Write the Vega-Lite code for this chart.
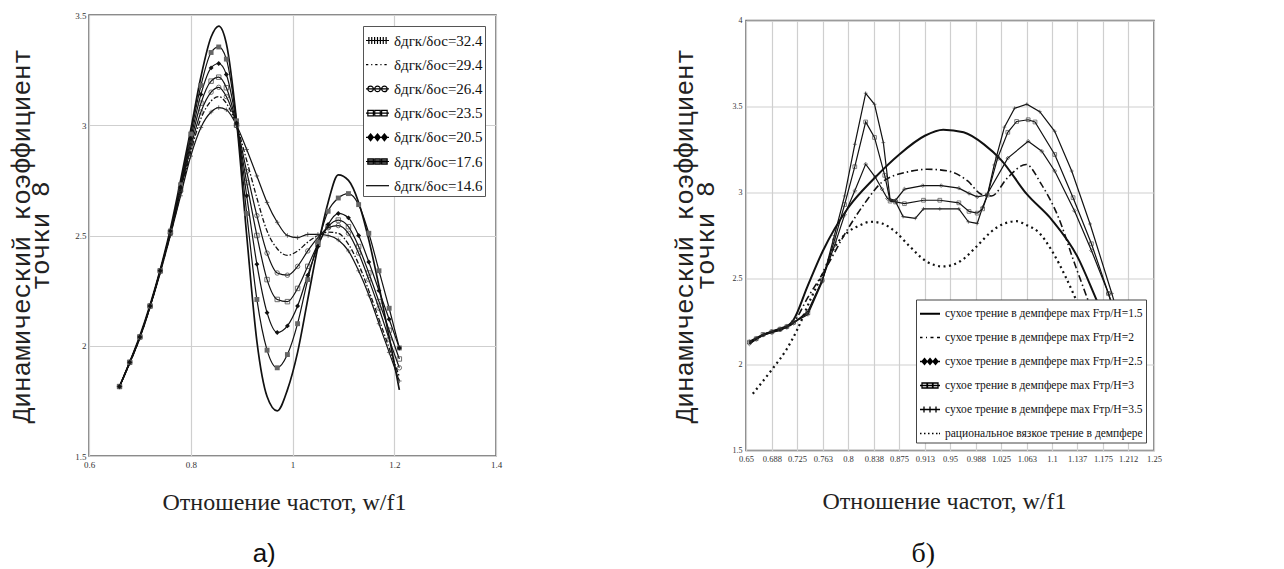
{
"$schema": "https://vega.github.io/schema/vega-lite/v6.json",
"background": "white",
"padding": {"left": 8, "top": 10, "right": 5, "bottom": 2},
"bounds": "flush",
"center": true,
"spacing": 250,
"config": {
 "view": {"stroke": "#666", "strokeWidth": 1.5},
 "axis": {"grid": true, "gridColor": "#cfcfcf", "gridWidth": 1.2, "domain": false, "ticks": false, "labelFont": "Liberation Serif", "labelColor": "#333", "labelFlush": false, "labelOverlap": false, "titleFontWeight": "normal", "titleColor": "#222"},
 "axisX": {"titleFont": "Liberation Serif", "titleFontSize": 24, "labelPadding": 4},
 "axisY": {"titleFont": "Liberation Mono", "titleFontSize": 26, "labelPadding": 3},
 "title": {"fontWeight": "normal", "color": "#111"}
},
"datasets": {
"a": [
{"s":"14.6","x":0.66,"y":1.815},{"s":"14.6","x":0.68,"y":1.925},{"s":"14.6","x":0.70,"y":2.045},{"s":"14.6","x":0.72,"y":2.185},{"s":"14.6","x":0.74,"y":2.345},{"s":"14.6","x":0.76,"y":2.53},{"s":"14.6","x":0.78,"y":2.75},{"s":"14.6","x":0.80,"y":2.98},{"s":"14.6","x":0.82,"y":3.22},{"s":"14.6","x":0.84,"y":3.40},{"s":"14.6","x":0.855,"y":3.45},{"s":"14.6","x":0.87,"y":3.37},{"s":"14.6","x":0.89,"y":3.02},{"s":"14.6","x":0.91,"y":2.50},{"s":"14.6","x":0.93,"y":2.02},{"s":"14.6","x":0.95,"y":1.77},{"s":"14.6","x":0.97,"y":1.705},{"s":"14.6","x":0.99,"y":1.80},{"s":"14.6","x":1.01,"y":1.97},{"s":"14.6","x":1.03,"y":2.21},{"s":"14.6","x":1.05,"y":2.45},{"s":"14.6","x":1.07,"y":2.65},{"s":"14.6","x":1.09,"y":2.775},{"s":"14.6","x":1.11,"y":2.75},{"s":"14.6","x":1.13,"y":2.65},{"s":"14.6","x":1.15,"y":2.48},{"s":"14.6","x":1.17,"y":2.27},{"s":"14.6","x":1.19,"y":2.04},{"s":"14.6","x":1.21,"y":1.80},
{"s":"17.6","x":0.66,"y":1.815},{"s":"17.6","x":0.68,"y":1.925},{"s":"17.6","x":0.70,"y":2.04},{"s":"17.6","x":0.72,"y":2.18},{"s":"17.6","x":0.74,"y":2.34},{"s":"17.6","x":0.76,"y":2.52},{"s":"17.6","x":0.78,"y":2.73},{"s":"17.6","x":0.80,"y":2.96},{"s":"17.6","x":0.82,"y":3.18},{"s":"17.6","x":0.84,"y":3.33},{"s":"17.6","x":0.855,"y":3.355},{"s":"17.6","x":0.87,"y":3.30},{"s":"17.6","x":0.89,"y":3.02},{"s":"17.6","x":0.91,"y":2.60},{"s":"17.6","x":0.93,"y":2.21},{"s":"17.6","x":0.95,"y":1.98},{"s":"17.6","x":0.97,"y":1.90},{"s":"17.6","x":0.99,"y":1.96},{"s":"17.6","x":1.01,"y":2.10},{"s":"17.6","x":1.03,"y":2.30},{"s":"17.6","x":1.05,"y":2.47},{"s":"17.6","x":1.07,"y":2.61},{"s":"17.6","x":1.09,"y":2.67},{"s":"17.6","x":1.11,"y":2.69},{"s":"17.6","x":1.13,"y":2.64},{"s":"17.6","x":1.15,"y":2.51},{"s":"17.6","x":1.17,"y":2.34},{"s":"17.6","x":1.19,"y":2.17},{"s":"17.6","x":1.21,"y":1.99},
{"s":"20.5","x":0.66,"y":1.815},{"s":"20.5","x":0.68,"y":1.925},{"s":"20.5","x":0.70,"y":2.04},{"s":"20.5","x":0.72,"y":2.18},{"s":"20.5","x":0.74,"y":2.34},{"s":"20.5","x":0.76,"y":2.52},{"s":"20.5","x":0.78,"y":2.72},{"s":"20.5","x":0.80,"y":2.94},{"s":"20.5","x":0.82,"y":3.14},{"s":"20.5","x":0.84,"y":3.26},{"s":"20.5","x":0.855,"y":3.28},{"s":"20.5","x":0.87,"y":3.23},{"s":"20.5","x":0.89,"y":3.01},{"s":"20.5","x":0.91,"y":2.68},{"s":"20.5","x":0.93,"y":2.37},{"s":"20.5","x":0.95,"y":2.15},{"s":"20.5","x":0.97,"y":2.06},{"s":"20.5","x":0.99,"y":2.09},{"s":"20.5","x":1.01,"y":2.18},{"s":"20.5","x":1.03,"y":2.32},{"s":"20.5","x":1.05,"y":2.45},{"s":"20.5","x":1.07,"y":2.55},{"s":"20.5","x":1.09,"y":2.60},{"s":"20.5","x":1.11,"y":2.58},{"s":"20.5","x":1.13,"y":2.50},{"s":"20.5","x":1.15,"y":2.38},{"s":"20.5","x":1.17,"y":2.25},{"s":"20.5","x":1.19,"y":2.12},{"s":"20.5","x":1.21,"y":1.99},
{"s":"23.5","x":0.66,"y":1.815},{"s":"23.5","x":0.68,"y":1.925},{"s":"23.5","x":0.70,"y":2.04},{"s":"23.5","x":0.72,"y":2.18},{"s":"23.5","x":0.74,"y":2.34},{"s":"23.5","x":0.76,"y":2.515},{"s":"23.5","x":0.78,"y":2.71},{"s":"23.5","x":0.80,"y":2.92},{"s":"23.5","x":0.82,"y":3.10},{"s":"23.5","x":0.84,"y":3.20},{"s":"23.5","x":0.855,"y":3.218},{"s":"23.5","x":0.87,"y":3.17},{"s":"23.5","x":0.89,"y":3.00},{"s":"23.5","x":0.91,"y":2.74},{"s":"23.5","x":0.93,"y":2.50},{"s":"23.5","x":0.95,"y":2.30},{"s":"23.5","x":0.97,"y":2.21},{"s":"23.5","x":0.99,"y":2.20},{"s":"23.5","x":1.01,"y":2.26},{"s":"23.5","x":1.03,"y":2.36},{"s":"23.5","x":1.05,"y":2.46},{"s":"23.5","x":1.07,"y":2.54},{"s":"23.5","x":1.09,"y":2.57},{"s":"23.5","x":1.11,"y":2.54},{"s":"23.5","x":1.13,"y":2.45},{"s":"23.5","x":1.15,"y":2.33},{"s":"23.5","x":1.17,"y":2.20},{"s":"23.5","x":1.19,"y":2.07},{"s":"23.5","x":1.21,"y":1.94},
{"s":"26.4","x":0.66,"y":1.815},{"s":"26.4","x":0.68,"y":1.925},{"s":"26.4","x":0.70,"y":2.04},{"s":"26.4","x":0.72,"y":2.18},{"s":"26.4","x":0.74,"y":2.34},{"s":"26.4","x":0.76,"y":2.51},{"s":"26.4","x":0.78,"y":2.70},{"s":"26.4","x":0.80,"y":2.90},{"s":"26.4","x":0.82,"y":3.06},{"s":"26.4","x":0.84,"y":3.15},{"s":"26.4","x":0.855,"y":3.172},{"s":"26.4","x":0.87,"y":3.13},{"s":"26.4","x":0.89,"y":3.00},{"s":"26.4","x":0.91,"y":2.79},{"s":"26.4","x":0.93,"y":2.59},{"s":"26.4","x":0.95,"y":2.42},{"s":"26.4","x":0.97,"y":2.33},{"s":"26.4","x":0.99,"y":2.32},{"s":"26.4","x":1.01,"y":2.36},{"s":"26.4","x":1.03,"y":2.43},{"s":"26.4","x":1.05,"y":2.49},{"s":"26.4","x":1.07,"y":2.535},{"s":"26.4","x":1.09,"y":2.545},{"s":"26.4","x":1.11,"y":2.51},{"s":"26.4","x":1.13,"y":2.42},{"s":"26.4","x":1.15,"y":2.30},{"s":"26.4","x":1.17,"y":2.17},{"s":"26.4","x":1.19,"y":2.03},{"s":"26.4","x":1.21,"y":1.90},
{"s":"29.4","x":0.66,"y":1.815},{"s":"29.4","x":0.68,"y":1.92},{"s":"29.4","x":0.70,"y":2.035},{"s":"29.4","x":0.72,"y":2.175},{"s":"29.4","x":0.74,"y":2.335},{"s":"29.4","x":0.76,"y":2.505},{"s":"29.4","x":0.78,"y":2.69},{"s":"29.4","x":0.80,"y":2.88},{"s":"29.4","x":0.82,"y":3.03},{"s":"29.4","x":0.84,"y":3.11},{"s":"29.4","x":0.855,"y":3.13},{"s":"29.4","x":0.87,"y":3.10},{"s":"29.4","x":0.89,"y":3.00},{"s":"29.4","x":0.91,"y":2.84},{"s":"29.4","x":0.93,"y":2.67},{"s":"29.4","x":0.95,"y":2.52},{"s":"29.4","x":0.97,"y":2.44},{"s":"29.4","x":0.99,"y":2.41},{"s":"29.4","x":1.01,"y":2.43},{"s":"29.4","x":1.03,"y":2.47},{"s":"29.4","x":1.05,"y":2.50},{"s":"29.4","x":1.07,"y":2.515},{"s":"29.4","x":1.09,"y":2.51},{"s":"29.4","x":1.11,"y":2.46},{"s":"29.4","x":1.13,"y":2.37},{"s":"29.4","x":1.15,"y":2.25},{"s":"29.4","x":1.17,"y":2.12},{"s":"29.4","x":1.19,"y":1.99},{"s":"29.4","x":1.21,"y":1.86},
{"s":"32.4","x":0.66,"y":1.815},{"s":"32.4","x":0.68,"y":1.92},{"s":"32.4","x":0.70,"y":2.035},{"s":"32.4","x":0.72,"y":2.175},{"s":"32.4","x":0.74,"y":2.33},{"s":"32.4","x":0.76,"y":2.50},{"s":"32.4","x":0.78,"y":2.68},{"s":"32.4","x":0.80,"y":2.86},{"s":"32.4","x":0.82,"y":2.99},{"s":"32.4","x":0.84,"y":3.06},{"s":"32.4","x":0.855,"y":3.08},{"s":"32.4","x":0.87,"y":3.07},{"s":"32.4","x":0.89,"y":3.00},{"s":"32.4","x":0.91,"y":2.89},{"s":"32.4","x":0.93,"y":2.77},{"s":"32.4","x":0.95,"y":2.65},{"s":"32.4","x":0.97,"y":2.56},{"s":"32.4","x":0.99,"y":2.50},{"s":"32.4","x":1.01,"y":2.49},{"s":"32.4","x":1.03,"y":2.505},{"s":"32.4","x":1.05,"y":2.505},{"s":"32.4","x":1.07,"y":2.50},{"s":"32.4","x":1.09,"y":2.48},{"s":"32.4","x":1.11,"y":2.43},{"s":"32.4","x":1.13,"y":2.34},{"s":"32.4","x":1.15,"y":2.23},{"s":"32.4","x":1.17,"y":2.10},{"s":"32.4","x":1.19,"y":1.97},{"s":"32.4","x":1.21,"y":1.84}
],
"b": [
{"s":"1.5","x":0.655,"y":2.12},{"s":"1.5","x":0.665,"y":2.15},{"s":"1.5","x":0.675,"y":2.17},{"s":"1.5","x":0.688,"y":2.19},{"s":"1.5","x":0.7,"y":2.205},{"s":"1.5","x":0.71,"y":2.22},{"s":"1.5","x":0.72,"y":2.26},{"s":"1.5","x":0.74,"y":2.45},{"s":"1.5","x":0.763,"y":2.66},{"s":"1.5","x":0.8,"y":2.91},{"s":"1.5","x":0.838,"y":3.08},{"s":"1.5","x":0.875,"y":3.22},{"s":"1.5","x":0.913,"y":3.33},{"s":"1.5","x":0.94,"y":3.365},{"s":"1.5","x":0.97,"y":3.35},{"s":"1.5","x":1.0,"y":3.28},{"s":"1.5","x":1.025,"y":3.19},{"s":"1.5","x":1.063,"y":2.99},{"s":"1.5","x":1.1,"y":2.84},{"s":"1.5","x":1.137,"y":2.63},{"s":"1.5","x":1.165,"y":2.38},{"s":"1.5","x":1.19,"y":2.15},{"s":"1.5","x":1.21,"y":1.95},
{"s":"2","x":0.655,"y":2.13},{"s":"2","x":0.665,"y":2.15},{"s":"2","x":0.675,"y":2.17},{"s":"2","x":0.688,"y":2.19},{"s":"2","x":0.7,"y":2.2},{"s":"2","x":0.71,"y":2.215},{"s":"2","x":0.72,"y":2.245},{"s":"2","x":0.741,"y":2.39},{"s":"2","x":0.763,"y":2.53},{"s":"2","x":0.8,"y":2.79},{"s":"2","x":0.825,"y":2.94},{"s":"2","x":0.85,"y":3.06},{"s":"2","x":0.888,"y":3.12},{"s":"2","x":0.917,"y":3.135},{"s":"2","x":0.947,"y":3.125},{"s":"2","x":0.976,"y":3.067},{"s":"2","x":0.996,"y":2.99},{"s":"2","x":1.011,"y":2.98},{"s":"2","x":1.035,"y":3.087},{"s":"2","x":1.062,"y":3.163},{"s":"2","x":1.084,"y":3.05},{"s":"2","x":1.109,"y":2.86},{"s":"2","x":1.133,"y":2.59},{"s":"2","x":1.16,"y":2.3},{"s":"2","x":1.19,"y":2.0},
{"s":"2.5","x":0.655,"y":2.12},{"s":"2.5","x":0.665,"y":2.145},{"s":"2.5","x":0.675,"y":2.17},{"s":"2.5","x":0.688,"y":2.185},{"s":"2.5","x":0.7,"y":2.2},{"s":"2.5","x":0.71,"y":2.215},{"s":"2.5","x":0.72,"y":2.24},{"s":"2.5","x":0.741,"y":2.31},{"s":"2.5","x":0.762,"y":2.49},{"s":"2.5","x":0.78,"y":2.69},{"s":"2.5","x":0.795,"y":2.87},{"s":"2.5","x":0.81,"y":3.01},{"s":"2.5","x":0.826,"y":3.165},{"s":"2.5","x":0.84,"y":3.09},{"s":"2.5","x":0.85,"y":3.02},{"s":"2.5","x":0.858,"y":2.965},{"s":"2.5","x":0.87,"y":2.955},{"s":"2.5","x":0.883,"y":3.02},{"s":"2.5","x":0.91,"y":3.04},{"s":"2.5","x":0.937,"y":3.04},{"s":"2.5","x":0.963,"y":3.025},{"s":"2.5","x":0.978,"y":2.995},{"s":"2.5","x":0.99,"y":2.975},{"s":"2.5","x":1.004,"y":2.985},{"s":"2.5","x":1.035,"y":3.2},{"s":"2.5","x":1.065,"y":3.298},{"s":"2.5","x":1.085,"y":3.24},{"s":"2.5","x":1.104,"y":3.125},{"s":"2.5","x":1.133,"y":2.894},{"s":"2.5","x":1.158,"y":2.663},{"s":"2.5","x":1.183,"y":2.413},{"s":"2.5","x":1.205,"y":2.15},
{"s":"3","x":0.655,"y":2.13},{"s":"3","x":0.665,"y":2.15},{"s":"3","x":0.675,"y":2.175},{"s":"3","x":0.688,"y":2.19},{"s":"3","x":0.7,"y":2.205},{"s":"3","x":0.71,"y":2.22},{"s":"3","x":0.72,"y":2.245},{"s":"3","x":0.741,"y":2.3},{"s":"3","x":0.762,"y":2.49},{"s":"3","x":0.78,"y":2.72},{"s":"3","x":0.795,"y":2.93},{"s":"3","x":0.81,"y":3.15},{"s":"3","x":0.826,"y":3.41},{"s":"3","x":0.839,"y":3.32},{"s":"3","x":0.854,"y":3.1},{"s":"3","x":0.862,"y":2.95},{"s":"3","x":0.87,"y":2.945},{"s":"3","x":0.883,"y":2.935},{"s":"3","x":0.911,"y":2.955},{"s":"3","x":0.935,"y":2.955},{"s":"3","x":0.963,"y":2.94},{"s":"3","x":0.978,"y":2.89},{"s":"3","x":0.99,"y":2.88},{"s":"3","x":0.998,"y":2.905},{"s":"3","x":1.005,"y":2.985},{"s":"3","x":1.02,"y":3.2},{"s":"3","x":1.035,"y":3.35},{"s":"3","x":1.048,"y":3.413},{"s":"3","x":1.065,"y":3.423},{"s":"3","x":1.075,"y":3.41},{"s":"3","x":1.104,"y":3.221},{"s":"3","x":1.131,"y":2.97},{"s":"3","x":1.158,"y":2.702},{"s":"3","x":1.183,"y":2.413},{"s":"3","x":1.205,"y":2.12},
{"s":"3.5","x":0.655,"y":2.135},{"s":"3.5","x":0.665,"y":2.155},{"s":"3.5","x":0.675,"y":2.175},{"s":"3.5","x":0.688,"y":2.195},{"s":"3.5","x":0.7,"y":2.21},{"s":"3.5","x":0.71,"y":2.225},{"s":"3.5","x":0.72,"y":2.245},{"s":"3.5","x":0.741,"y":2.29},{"s":"3.5","x":0.762,"y":2.48},{"s":"3.5","x":0.78,"y":2.75},{"s":"3.5","x":0.795,"y":2.98},{"s":"3.5","x":0.81,"y":3.28},{"s":"3.5","x":0.826,"y":3.577},{"s":"3.5","x":0.839,"y":3.513},{"s":"3.5","x":0.852,"y":3.29},{"s":"3.5","x":0.862,"y":2.956},{"s":"3.5","x":0.87,"y":2.946},{"s":"3.5","x":0.881,"y":2.86},{"s":"3.5","x":0.899,"y":2.85},{"s":"3.5","x":0.911,"y":2.905},{"s":"3.5","x":0.935,"y":2.905},{"s":"3.5","x":0.963,"y":2.905},{"s":"3.5","x":0.977,"y":2.83},{"s":"3.5","x":0.99,"y":2.82},{"s":"3.5","x":0.998,"y":2.915},{"s":"3.5","x":1.005,"y":2.985},{"s":"3.5","x":1.015,"y":3.16},{"s":"3.5","x":1.03,"y":3.38},{"s":"3.5","x":1.045,"y":3.49},{"s":"3.5","x":1.063,"y":3.513},{"s":"3.5","x":1.082,"y":3.47},{"s":"3.5","x":1.104,"y":3.356},{"s":"3.5","x":1.129,"y":3.125},{"s":"3.5","x":1.156,"y":2.817},{"s":"3.5","x":1.188,"y":2.413},{"s":"3.5","x":1.21,"y":2.1},
{"s":"v","x":0.66,"y":1.83},{"s":"v","x":0.688,"y":1.97},{"s":"v","x":0.71,"y":2.09},{"s":"v","x":0.725,"y":2.2},{"s":"v","x":0.745,"y":2.38},{"s":"v","x":0.763,"y":2.53},{"s":"v","x":0.78,"y":2.68},{"s":"v","x":0.8,"y":2.77},{"s":"v","x":0.818,"y":2.81},{"s":"v","x":0.833,"y":2.83},{"s":"v","x":0.85,"y":2.82},{"s":"v","x":0.87,"y":2.77},{"s":"v","x":0.89,"y":2.69},{"s":"v","x":0.915,"y":2.6},{"s":"v","x":0.94,"y":2.57},{"s":"v","x":0.965,"y":2.6},{"s":"v","x":0.99,"y":2.69},{"s":"v","x":1.01,"y":2.77},{"s":"v","x":1.03,"y":2.82},{"s":"v","x":1.048,"y":2.833},{"s":"v","x":1.063,"y":2.81},{"s":"v","x":1.08,"y":2.77},{"s":"v","x":1.1,"y":2.66},{"s":"v","x":1.12,"y":2.51},{"s":"v","x":1.135,"y":2.38},{"s":"v","x":1.155,"y":2.2},{"s":"v","x":1.17,"y":2.09},{"s":"v","x":1.192,"y":1.97},{"s":"v","x":1.22,"y":1.83}
]
},
"hconcat": [
{
 "width": 407, "height": 441,
 "title": {"text": "а)", "orient": "bottom", "font": "Liberation Sans", "fontSize": 26, "offset": 27, "dx": 9, "anchor": "middle", "frame": "bounds"},
 "data": {"name": "a"},
 "encoding": {
  "x": {"field": "x", "type": "quantitative", "scale": {"domain": [0.6, 1.4], "nice": false, "zero": false}, "axis": {"values": [0.6, 0.8, 1, 1.2, 1.4], "format": "~g", "labelFontSize": 9, "title": "Отношение частот, w/f1", "titlePadding": 21, "titleX": 195}},
  "y": {"field": "y", "type": "quantitative", "scale": {"domain": [1.5, 3.5], "nice": false, "zero": false}, "axis": {"values": [1.5, 2, 2.5, 3, 3.5], "format": "~g", "labelFontSize": 9, "title": ["Динамический коэффициент", "точки 8"], "titleLineHeight": 19, "titlePadding": 21}}
 },
 "layer": [
  {"transform": [{"filter": {"field": "s", "oneOf": ["32.4","26.4","23.5","20.5","17.6"]}}],
   "mark": {"type": "line", "interpolate": "monotone", "color": "#111", "strokeWidth": 1.2},
   "encoding": {"detail": {"field": "s", "type": "nominal"}}},
  {"transform": [{"filter": {"field": "s", "equal": "14.6"}}],
   "mark": {"type": "line", "interpolate": "monotone", "color": "#111", "strokeWidth": 1.7},
   "encoding": {}},
  {"transform": [{"filter": {"field": "s", "equal": "29.4"}}],
   "mark": {"type": "line", "interpolate": "monotone", "color": "#111", "strokeWidth": 1.3, "strokeDash": [5, 2, 1.5, 2]},
   "encoding": {}},
  {"transform": [{"filter": {"field": "s", "oneOf": ["32.4","26.4","23.5"]}}],
   "mark": {"type": "point", "filled": false, "color": "#333", "strokeWidth": 1, "size": 20},
   "encoding": {"shape": {"field": "s", "type": "nominal", "scale": {"domain": ["32.4","26.4","23.5"], "range": ["M-1,0H1M0,-1V1", "circle", "square"]}, "legend": null}}},
  {"transform": [{"filter": {"field": "s", "oneOf": ["20.5","17.6"]}}],
   "mark": {"type": "point", "filled": true, "size": 24, "opacity": 1},
   "encoding": {
    "shape": {"field": "s", "type": "nominal", "scale": {"domain": ["20.5","17.6"], "range": ["diamond", "square"]}, "legend": null},
    "color": {"field": "s", "type": "nominal", "scale": {"domain": ["20.5","17.6"], "range": ["#111", "#666"]}, "legend": null}
   }},
  {"mark": {"type": "point", "filled": false, "opacity": 0, "color": "black"},
   "encoding": {"shape": {"field": "s", "type": "nominal",
     "scale": {"domain": ["32.4","29.4","26.4","23.5","20.5","17.6","14.6"],
      "range": [
       "M-1,0H1M-0.75,-0.3V0.3M-0.5,-0.3V0.3M-0.25,-0.3V0.3M0,-0.3V0.3M0.25,-0.3V0.3M0.5,-0.3V0.3M0.75,-0.3V0.3",
       "M-1,0H-0.8M-0.55,0H-0.45M-0.2,0H0M0.25,0H0.35M0.6,0H0.8",
       "M-1,0H1M-0.84,0A0.24,0.24 0 1,0 -0.36,0A0.24,0.24 0 1,0 -0.84,0M-0.24,0A0.24,0.24 0 1,0 0.24,0A0.24,0.24 0 1,0 -0.24,0M0.36,0A0.24,0.24 0 1,0 0.84,0A0.24,0.24 0 1,0 0.36,0",
       "M-1,0H1M-0.84,-0.24H-0.36V0.24H-0.84ZM-0.24,-0.24H0.24V0.24H-0.24ZM0.36,-0.24H0.84V0.24H0.36Z",
       "M-1,0H1M-0.6,-0.3L-0.36,0L-0.6,0.3L-0.84,0ZM-0.6,-0.15L-0.48,0L-0.6,0.15L-0.72,0ZM-0.6,-0.3V0.3M0,-0.3L0.24,0L0,0.3L-0.24,0ZM0,-0.15L0.12,0L0,0.15L-0.12,0ZM0,-0.3V0.3M0.6,-0.3L0.84,0L0.6,0.3L0.36,0ZM0.6,-0.15L0.72,0L0.6,0.15L0.48,0ZM0.6,-0.3V0.3",
       "M-1,0H1M-0.84,-0.24H-0.36V0.24H-0.84ZM-0.84,-0.12H-0.36M-0.84,0.12H-0.36M-0.24,-0.24H0.24V0.24H-0.24ZM-0.24,-0.12H0.24M-0.24,0.12H0.24M0.36,-0.24H0.84V0.24H0.36ZM0.36,-0.12H0.84M0.36,0.12H0.84",
       "M-1,0H1"]},
     "legend": {"title": null, "orient": "none", "legendX": 274, "legendY": 11, "symbolSize": 529, "symbolStrokeWidth": 1.2, "symbolStrokeColor": "black", "symbolFillColor": "transparent", "symbolOpacity": 1, "labelFont": "Liberation Serif", "labelFontSize": 15, "labelColor": "#111", "labelOffset": 4, "labelLimit": 300, "labelExpr": "'δдгк/δос=' + datum.label", "rowPadding": 3.2, "padding": 2, "strokeColor": "#555", "fillColor": "white",
      "encode": {"symbols": {"update": {"opacity": {"value": 1}}}}}
   }}}
 ],
 "resolve": {"scale": {"shape": "independent", "color": "independent"}}
},
{
 "width": 408, "height": 430,
 "title": {"text": "б)", "orient": "bottom", "font": "Liberation Serif", "fontSize": 28, "offset": 27, "dx": 7, "anchor": "middle", "frame": "bounds"},
 "data": {"name": "b"},
 "encoding": {
  "x": {"field": "x", "type": "quantitative", "scale": {"domain": [0.65, 1.25], "nice": false, "zero": false}, "axis": {"values": [0.65, 0.688, 0.725, 0.763, 0.8, 0.838, 0.875, 0.913, 0.95, 0.988, 1.025, 1.063, 1.1, 1.137, 1.175, 1.212, 1.25], "format": ".4~g", "labelFontSize": 8.5, "title": "Отношение частот, w/f1", "titlePadding": 26, "titleX": 198}},
  "y": {"field": "y", "type": "quantitative", "scale": {"domain": [1.5, 4], "nice": false, "zero": false}, "axis": {"values": [1.5, 2, 2.5, 3, 3.5, 4], "format": "~g", "labelFontSize": 8, "labelPadding": 4, "title": ["Динамический коэффициент", "точки 8"], "titleLineHeight": 21, "titlePadding": 14}}
 },
 "layer": [
  {"transform": [{"filter": {"field": "s", "oneOf": ["2.5","3","3.5"]}}],
   "mark": {"type": "line", "interpolate": "linear", "color": "#111", "strokeWidth": 1.2},
   "encoding": {"detail": {"field": "s", "type": "nominal"}}},
  {"transform": [{"filter": {"field": "s", "equal": "1.5"}}],
   "mark": {"type": "line", "interpolate": "monotone", "color": "#111", "strokeWidth": 2},
   "encoding": {}},
  {"transform": [{"filter": {"field": "s", "equal": "2"}}],
   "mark": {"type": "line", "interpolate": "monotone", "color": "#111", "strokeWidth": 1.6, "strokeDash": [7, 3, 1.5, 3]},
   "encoding": {}},
  {"transform": [{"filter": {"field": "s", "equal": "v"}}],
   "mark": {"type": "line", "interpolate": "monotone", "color": "#111", "strokeWidth": 2.2, "strokeDash": [2, 3.5]},
   "encoding": {}},
  {"transform": [{"filter": {"field": "s", "oneOf": ["2.5","3","3.5"]}}],
   "mark": {"type": "point", "filled": false, "color": "#333", "strokeWidth": 0.9, "size": 14},
   "encoding": {"shape": {"field": "s", "type": "nominal", "scale": {"domain": ["2.5","3","3.5"], "range": ["diamond", "square", "M-1,0H1M0,-1V1"]}, "legend": null}}},
  {"mark": {"type": "point", "filled": false, "opacity": 0, "color": "black"},
   "encoding": {"shape": {"field": "s", "type": "nominal",
     "scale": {"domain": ["1.5","2","2.5","3","3.5","v"],
      "range": [
       "M-1,0H1M-1,0.06H1",
       "M-1,0H-0.75M-0.4,0H-0.3M0.05,0H0.35M0.7,0H1",
       "M-1,0H1M-0.55,-0.3L-0.3,0L-0.55,0.3L-0.8,0ZM-0.55,-0.15L-0.42,0L-0.55,0.15L-0.68,0ZM-0.55,-0.3V0.3M0,-0.3L0.25,0L0,0.3L-0.25,0ZM0,-0.15L0.12,0L0,0.15L-0.12,0ZM0,-0.3V0.3M0.55,-0.3L0.8,0L0.55,0.3L0.3,0ZM0.55,-0.15L0.68,0L0.55,0.15L0.42,0ZM0.55,-0.3V0.3",
       "M-1,0H1M-0.8,-0.25H-0.3V0.25H-0.8ZM-0.25,-0.25H0.25V0.25H-0.25ZM0.3,-0.25H0.8V0.25H0.3Z",
       "M-1,0H1M-0.6,-0.3V0.3M0,-0.3V0.3M0.6,-0.3V0.3",
       "M-1,0H-0.85M-0.6,0H-0.45M-0.2,0H-0.05M0.2,0H0.35M0.6,0H0.75M0.9,0H1"]},
     "legend": {"title": null, "orient": "none", "legendX": 170, "legendY": 279, "symbolSize": 400, "symbolStrokeWidth": 1.3, "symbolStrokeColor": "black", "symbolFillColor": "transparent", "symbolOpacity": 1, "labelFont": "Liberation Serif", "labelFontSize": 11.5, "labelColor": "#111", "labelOffset": 4, "labelLimit": 400, "labelExpr": "datum.label === 'v' ? 'рациональное вязкое трение в демпфере' : 'сухое трение в демпфере max Fтр/H=' + datum.label", "rowPadding": 7, "padding": 3, "strokeColor": "#444", "fillColor": "white",
      "encode": {"symbols": {"update": {"opacity": {"value": 1}}}}}
   }}}
 ],
 "resolve": {"scale": {"shape": "independent"}}
}
]
}
